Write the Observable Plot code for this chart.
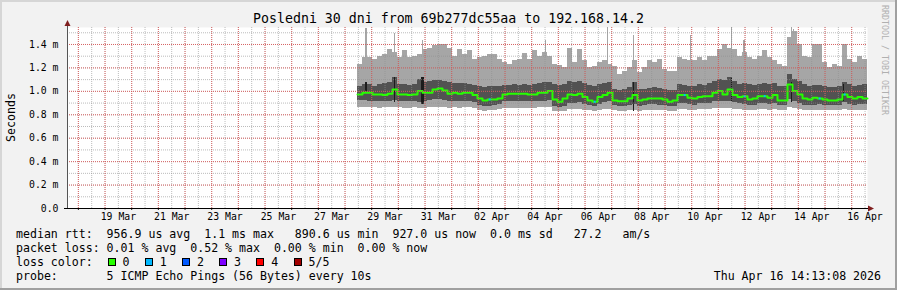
<!DOCTYPE html>
<html><head><meta charset="utf-8">
<script src="https://cdn.jsdelivr.net/npm/d3@7"></script>
<script src="https://cdn.jsdelivr.net/npm/@observablehq/plot@0.6"></script>
<style>
html,body{margin:0;padding:0;background:#f2f2f2;}
#chart{position:relative;width:897px;height:290px;background:#f2f2f2;overflow:hidden;font-family:"DejaVu Sans Mono",monospace;color:#000;}
#title{position:absolute;left:0;width:897px;top:11px;line-height:16px;font-size:13.25px;text-align:center;white-space:pre;}
#plot{position:absolute;left:0;top:14px;}
#wm{position:absolute;left:880px;top:5px;writing-mode:vertical-rl;font-size:8.3px;color:#b0b0b0;white-space:pre;line-height:10px;}
.lg{position:absolute;left:16px;font-size:11.58px;line-height:14px;white-space:pre;}
.sw{position:absolute;width:8px;height:8px;border:1px solid #000;box-sizing:border-box;}
.bd{position:absolute;}
</style></head>
<body><div id="chart">
<div id="title">Posledni 30 dni from 69b277dc55aa to 192.168.14.2</div>
<div id="plot"></div>
<div id="wm">RRDTOOL / TOBI OETIKER</div>
<div class="lg" style="top:227px">median rtt:  956.9 us avg  1.1 ms max   890.6 us min  927.0 us now  0.0 ms sd   27.2   am/s</div>
<div class="lg" style="top:241px">packet loss: 0.01 % avg  0.52 % max  0.00 % min  0.00 % now</div>
<div class="lg" style="top:255px">loss color:</div>
<div class="lg" style="top:269px">probe:       5 ICMP Echo Pings (56 Bytes) every 10s</div>
<div class="lg" style="top:269px;left:auto;right:16px">Thu Apr 16 14:13:08 2026</div>
<div class="bd" style="left:0;top:0;width:897px;height:2px;background:#d6d6d6"></div>
<div class="bd" style="left:0;top:0;width:2px;height:290px;background:#d6d6d6"></div>
<div class="bd" style="left:0;top:288px;width:897px;height:2px;background:#a0a0a0"></div>
<div class="bd" style="left:895px;top:0;width:2px;height:290px;background:#a0a0a0"></div>
</div>
<script>
// ---- data (milliseconds) ----
const xTickLabels = ["19 Mar","21 Mar","23 Mar","25 Mar","27 Mar","29 Mar","31 Mar","02 Apr","04 Apr","06 Apr","08 Apr","10 Apr","12 Apr","14 Apr","16 Apr"];
const yTicks = [0, 0.2, 0.4, 0.6, 0.8, 1.0, 1.2, 1.4];
const yTickLabels = ["0.0","0.2 m","0.4 m","0.6 m","0.8 m","1.0 m","1.2 m","1.4 m"];
const lossLabels = ["0","1","2","3","4","5/5"];
const lossColors = ["#26ff00","#00b8ff","#0059ff","#7e00ff","#ff0000","#a10000"];

// one value per 4.5 h bin starting 2026-03-28 11:13:08
const pingMax = [1.23,1.29,1.29,1.27,1.30,1.315,1.36,1.33,1.29,1.345,1.29,1.30,1.315,1.36,1.37,1.39,1.40,1.40,1.37,1.30,
1.36,1.315,1.345,1.27,1.29,1.30,1.315,1.315,1.27,1.245,1.23,1.26,1.27,1.32,1.27,1.345,1.30,1.33,1.30,1.23,
1.22,1.20,1.37,1.245,1.36,1.26,1.20,1.215,1.245,1.26,1.23,1.215,1.146,1.17,1.20,1.26,1.16,1.20,1.26,1.245,
1.27,1.19,1.17,1.17,1.29,1.27,1.26,1.26,1.29,1.26,1.30,1.30,1.36,1.40,1.37,1.36,1.30,1.33,1.29,1.27,
1.30,1.345,1.29,1.26,1.23,1.215,1.46,1.51,1.40,1.30,1.29,1.40,1.40,1.245,1.20,1.23,1.215,1.40,1.27,1.245,
1.30,1.27];
const pingP4 = [1.044,1.059,1.059,1.044,1.059,1.064,1.073,1.116,1.059,1.059,1.053,1.059,1.101,1.073,1.081,1.093,1.093,1.087,1.073,1.064,
1.064,1.064,1.059,1.053,1.044,1.036,1.044,1.044,1.044,1.053,1.053,1.059,1.053,1.059,1.053,1.059,1.064,1.073,1.073,1.059,
1.053,1.059,1.087,1.073,1.081,1.064,1.053,1.044,1.059,1.064,1.073,1.016,1.007,1.016,1.030,1.073,1.016,1.016,1.025,1.030,
1.025,1.016,1.007,1.007,1.059,1.053,1.044,1.044,1.059,1.053,1.064,1.081,1.101,1.093,1.116,1.087,1.059,1.064,1.059,1.053,
1.059,1.064,1.059,1.064,1.044,1.044,1.144,1.101,1.081,1.059,1.044,1.053,1.053,1.044,1.036,1.036,1.044,1.073,1.059,1.044,
1.053,1.059];
const pingMedian = [0.973,0.988,0.988,0.973,0.973,0.968,0.979,1.016,0.973,0.973,0.968,0.973,1.002,0.988,0.988,1.016,1.025,1.007,0.979,0.988,
0.979,0.988,0.988,0.968,0.939,0.922,0.931,0.931,0.939,0.973,0.979,0.979,0.979,0.979,0.973,0.973,0.988,0.988,1.002,0.931,
0.911,0.939,0.973,0.968,0.979,0.951,0.922,0.911,0.951,0.968,0.988,0.922,0.916,0.916,0.939,0.968,0.922,0.931,0.939,0.939,
0.939,0.931,0.911,0.922,0.968,0.968,0.945,0.939,0.951,0.959,0.959,0.988,1.002,0.973,1.016,0.968,0.951,0.959,0.931,0.939,
0.959,0.959,0.945,0.968,0.922,0.922,1.059,1.002,0.973,0.939,0.931,0.945,0.939,0.931,0.922,0.922,0.931,0.973,0.951,0.939,
0.951,0.939];
const pingP2 = [0.922,0.922,0.916,0.916,0.911,0.916,0.916,0.922,0.916,0.911,0.911,0.916,0.902,0.916,0.922,0.931,0.931,0.922,0.911,0.916,
0.911,0.916,0.911,0.902,0.882,0.874,0.874,0.877,0.888,0.911,0.911,0.911,0.911,0.911,0.911,0.911,0.916,0.916,0.922,0.874,
0.865,0.874,0.894,0.894,0.902,0.888,0.882,0.874,0.888,0.902,0.911,0.882,0.874,0.874,0.882,0.888,0.874,0.880,0.888,0.888,
0.882,0.882,0.874,0.874,0.894,0.894,0.888,0.882,0.894,0.894,0.894,0.911,0.916,0.911,0.911,0.902,0.894,0.888,0.882,0.882,
0.894,0.894,0.888,0.894,0.882,0.882,0.931,0.911,0.894,0.882,0.882,0.882,0.888,0.882,0.882,0.882,0.882,0.902,0.888,0.882,
0.888,0.888];
const pingMin = [0.860,0.860,0.860,0.860,0.854,0.860,0.860,0.865,0.860,0.854,0.854,0.860,0.854,0.854,0.860,0.865,0.865,0.860,0.854,0.860,
0.854,0.860,0.860,0.854,0.837,0.831,0.837,0.837,0.845,0.854,0.854,0.854,0.854,0.854,0.854,0.854,0.860,0.860,0.860,0.831,
0.825,0.831,0.845,0.845,0.845,0.837,0.837,0.831,0.837,0.845,0.845,0.837,0.831,0.831,0.837,0.837,0.831,0.837,0.837,0.837,
0.837,0.837,0.825,0.831,0.845,0.845,0.837,0.837,0.845,0.845,0.845,0.854,0.854,0.854,0.854,0.845,0.845,0.837,0.837,0.837,
0.845,0.845,0.837,0.845,0.837,0.837,0.860,0.854,0.845,0.837,0.837,0.837,0.837,0.837,0.837,0.837,0.837,0.845,0.837,0.837,
0.837,0.837];
// thin max spikes
const spikeTimes = ["2026-03-28T18:41Z","2026-03-29T20:31Z","2026-03-30T21:43Z","2026-04-04T12:25Z","2026-04-06T20:13Z","2026-04-07T19:37Z",
"2026-04-09T22:55Z","2026-04-11T11:49Z","2026-04-11T22:55Z","2026-04-13T17:49Z","2026-04-13T19:37Z","2026-04-15T16:37Z"];
const spikeValues = [1.54,1.49,1.43,1.43,1.545,1.48,1.48,1.545,1.43,1.545,1.53,1.38];
// near-black inner spikes (time, top, bottom)
const darkSpikeTimes = ["2026-03-28T18:41Z","2026-03-29T20:31Z","2026-03-30T20:49Z","2026-04-07T19:37Z","2026-04-11T11:49Z","2026-04-13T17:49Z","2026-04-15T16:37Z"];
const darkSpikeTop = [1.073,1.116,1.116,1.073,1.116,1.073,1.059];
const darkSpikeBottom = [1.002,0.902,0.888,0.831,0.916,0.902,0.916];
// bins whose median had 1 lost ping
const lossBins = [26,47,65,77,81,92,97];

const Y_TOP = 1.545;
const T_END = Date.UTC(2026,3,16,14,13,8);
const T_START = T_END - 30*24*3600e3;
const T0 = Date.UTC(2026,2,28,11,13,8);
const STEP = 4.5*3600e3;
const H = 3600e3;

const rows = pingMedian.map((m,i)=>({t0:new Date(T0+i*STEP), t1:new Date(T0+(i+1)*STEP),
  max:pingMax[i], p4:pingP4[i], med:m, p2:pingP2[i], min:pingMin[i]}));
const medLine = rows.map(r=>({t:r.t0, v:r.med})).concat([{t:rows[rows.length-1].t1, v:rows[rows.length-1].med}]);
const spikes = spikeTimes.map((s,i)=>({t:new Date(s), t2:new Date(+new Date(s)+1.2*H), v:spikeValues[i]}));
const darkSpikes = darkSpikeTimes.map((s,i)=>({t:new Date(s), t2:new Date(+new Date(s)+(i===2?2.7:1.2)*H), top:darkSpikeTop[i], bottom:darkSpikeBottom[i]}));
const losses = lossBins.map(i=>({t1:new Date(+rows[i].t0+1.5*H), t2:new Date(+rows[i].t0+3.3*H), v:rows[i].med}));

const monthIdx = {Mar:2, Apr:3};
const xTickDates = xTickLabels.map(s=>new Date(Date.UTC(2026, monthIdx[s.slice(3)], +s.slice(0,2), 12)));
const xLabelMap = new Map(xTickDates.map((d,i)=>[+d, xTickLabels[i]]));
const yLabelMap = new Map(yTicks.map((v,i)=>[v.toFixed(1), yTickLabels[i]]));

const minorX = d3.utcHour.every(12).range(new Date(T_START), new Date(T_END));
const majorX = d3.utcDay.range(new Date(T_START), new Date(T_END));
const minorY = d3.range(1, 16).map(k=>k/10);
const majorY = yTicks.slice(1);

const light = "#a6a6a6", dark = "#525252";
const plot = Plot.plot({
  width: 897, height: 214,
  marginLeft: 67, marginRight: 30, marginTop: 13, marginBottom: 20,
  style: {background:"transparent", fontFamily:"DejaVu Sans Mono, monospace", fontSize:"9.8px", color:"#000", overflow:"visible"},
  x: {type:"utc", domain:[new Date(T_START), new Date(T_END)]},
  y: {domain:[0, Y_TOP]},
  marks: [
    Plot.frame({fill:"#fff", stroke:null}),
    Plot.rectY(rows, {x1:"t0", x2:"t1", y1:"min", y2:"max", fill:light, shapeRendering:"crispEdges"}),
    Plot.rectY(spikes, {x1:"t", x2:"t2", y1:1.0, y2:"v", fill:light, shapeRendering:"crispEdges"}),
    Plot.rectY(rows, {x1:"t0", x2:"t1", y1:"p2", y2:"p4", fill:dark, shapeRendering:"crispEdges"}),
    Plot.rectY(darkSpikes, {x1:"t", x2:"t2", y1:"bottom", y2:"top", fill:"#1c1c1c", shapeRendering:"crispEdges"}),
    Plot.line(medLine, {x:"t", y:"v", curve:"step-after", stroke:"#26ff00", strokeWidth:2}),
    Plot.ruleY(losses, {x1:"t1", x2:"t2", y:"v", stroke:"#00b8ff", strokeWidth:2}),
    Plot.ruleX(minorX, {stroke:"rgba(143,143,143,0.6)", strokeDasharray:"1,1"}),
    Plot.ruleY(minorY, {stroke:"rgba(143,143,143,0.6)", strokeDasharray:"1,1"}),
    Plot.ruleX(majorX, {stroke:"rgba(222,79,79,0.8)", strokeDasharray:"1,1"}),
    Plot.ruleY(majorY, {stroke:"rgba(222,79,79,0.8)", strokeDasharray:"1,1"}),
    Plot.axisY(yTicks, {tickSize:0, tickPadding:9, tickFormat:v=>yLabelMap.get(v.toFixed(1)), label:null}),
    Plot.axisX(xTickDates, {tickSize:0, tickPadding:5, tickFormat:d=>xLabelMap.get(+d), label:null}),
    Plot.axisX(majorX, {tickSize:2, tickFormat:()=>"", label:null, stroke:"#1f1f1f"}),
    Plot.ruleX([new Date(T_START)], {stroke:"#555", y1:0, y2:Y_TOP}),
    Plot.ruleY([0], {stroke:"#000"})
  ]
});
document.getElementById("plot").appendChild(plot);

// decorations: axis arrows and y-axis title
const svg = d3.select(plot);
const L = 67, R = 897-30, B = 214-20, Tp = 13;
svg.append("line").attr("x1",L+0.5).attr("x2",L+0.5).attr("y1",Tp-6).attr("y2",Tp).attr("stroke","#555");
svg.append("line").attr("x1",L-3).attr("x2",R+2).attr("y1",B+0.5).attr("y2",B+0.5).attr("stroke","#000");
svg.append("polygon").attr("points",`${L+0.5},${Tp-7} ${L-2.5},${Tp-1} ${L+3.5},${Tp-1}`).attr("fill","#801f1f");
svg.append("polygon").attr("points",`${R+7},${B+0.5} ${R+1},${B-2.5} ${R+1},${B+3.5}`).attr("fill","#801f1f");
svg.append("text").attr("transform",`translate(11,${(Tp+B)/2}) rotate(-90)`).attr("text-anchor","middle")
  .attr("dy","0.35em").style("font-size","11.58px").attr("fill","#000").text("Seconds");

// loss colour legend swatches
const chart = document.getElementById("chart");
lossLabels.forEach((lab,k)=>{
  const sw = document.createElement("div");
  sw.className = "sw"; sw.style.left = (107.5+k*37.2)+"px"; sw.style.top = "257.5px"; sw.style.background = lossColors[k];
  chart.appendChild(sw);
  const t = document.createElement("div");
  t.className = "lg"; t.style.left = (122.5+k*37.2)+"px"; t.style.top = "255px"; t.textContent = lab;
  chart.appendChild(t);
});
</script>
</body></html>
